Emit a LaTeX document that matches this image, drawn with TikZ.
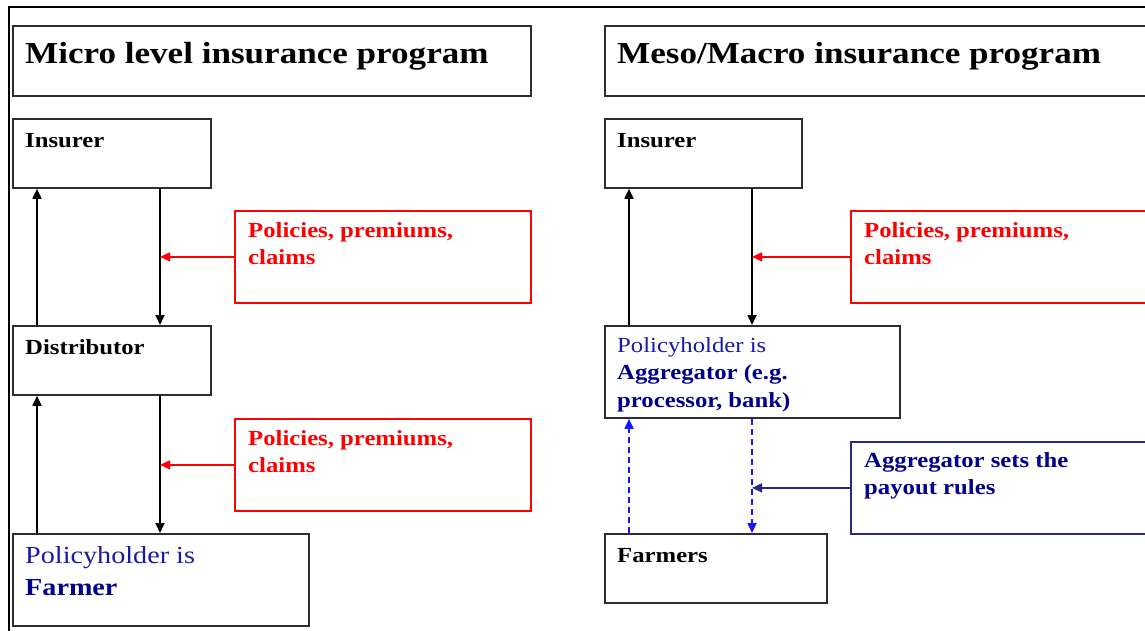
\documentclass[tikz,border=0pt]{standalone}
\usepackage{fontspec}
\setmainfont{Liberation Serif}[FakeStretch=1.15]
\usetikzlibrary{arrows.meta,calc}
\definecolor{boxgray}{RGB}{45,45,45}
\definecolor{navytxt}{RGB}{0,0,140}
\definecolor{bluetxt}{RGB}{25,25,165}
\definecolor{navybox}{RGB}{40,40,130}
\definecolor{dashblue}{RGB}{20,20,255}
\newcommand\stackl[2]{\vtop{\baselineskip=27pt\hbox{#1}\hbox{#2}}}
\newcommand\stackll[3]{\vtop{\baselineskip=27.5pt\hbox{#1}\hbox{#2}\hbox{#3}}}
\tikzset{
  box/.style={draw=boxgray, line width=1.8pt, rectangle, anchor=north west, inner sep=0pt},
  redbox/.style={draw=red, line width=1.8pt, rectangle, anchor=north west, inner sep=0pt},
  bluebox/.style={draw=navybox, line width=1.8pt, rectangle, anchor=north west, inner sep=0pt},
  lbl/.style={anchor=base west, inner sep=0pt, font=\fontsize{21.5}{27}\selectfont\bfseries},
  ttl/.style={anchor=base west, inner sep=0pt, font=\fontsize{30.5}{34}\selectfont\bfseries},
  tip/.style={-{Triangle[length=10pt,width=9pt]}},
  conn/.style={draw=black, line width=1.7pt, tip},
  redconn/.style={draw=red, line width=1.7pt, tip},
  navyconn/.style={draw=navybox, line width=1.7pt, tip},
  dashconn/.style={draw=dashblue, line width=1.7pt, dash pattern=on 6pt off 4pt, tip},
}
\begin{document}
\begin{tikzpicture}[x=1pt,y=-1pt]
\useasboundingbox (0,0) rectangle (1145,630);
\clip (0,0) rectangle (1145,630);
\fill[white] (0,0) rectangle (1145,630);
% frame
\draw[line width=2.5pt] (9,640) -- (9,7) -- (1160,7);
% titles
\node[box, minimum width=518, minimum height=70] (t1) at (12,25) {};
\node[ttl] at ($(t1.north west)+(13,38)$) {Micro level insurance program};
\node[box, minimum width=560, minimum height=70] (t2) at (604,25) {};
\node[ttl] at ($(t2.north west)+(13,38)$) {Meso/Macro insurance program};
% left column
\node[box, minimum width=198, minimum height=69] (ins1) at (12,118) {};
\node[lbl] at ($(ins1.north west)+(13,29)$) {Insurer};
\node[box, minimum width=198, minimum height=69] (dis1) at (12,325) {};
\node[lbl] at ($(dis1.north west)+(13,29)$) {Distributor};
\node[box, minimum width=296, minimum height=92] (far1) at (12,533) {};
\node[lbl, font=\fontsize{24.5}{30}\selectfont] at ($(far1.north west)+(13,30)$) {\vtop{\baselineskip=32pt\hbox{\color{bluetxt}Policyholder is}\hbox{\color{navytxt}\bfseries Farmer}}};
\node[redbox, minimum width=296, minimum height=92] (red1) at (234,210) {};
\node[lbl, text=red] at ($(red1.north west)+(14,27)$) {\stackl{Policies, premiums,}{claims}};
\node[redbox, minimum width=296, minimum height=92] (red2) at (234,418) {};
\node[lbl, text=red] at ($(red2.north west)+(14,27)$) {\stackl{Policies, premiums,}{claims}};
% left connectors
\coordinate (d1) at ($(ins1.south west)+(148,0)$);
\coordinate (d2) at ($(dis1.south west)+(148,0)$);
\draw[conn] ($(dis1.north west)+(25,0)$) -- ($(ins1.south west)+(25,0)$);
\draw[conn] (d1) -- (d1 |- dis1.north);
\draw[redconn] (red1.west) -- (red1.west -| d1);
\draw[conn] ($(far1.north west)+(25,0)$) -- ($(dis1.south west)+(25,0)$);
\draw[conn] (d2) -- (d2 |- far1.north);
\draw[redconn] (red2.west) -- (red2.west -| d2);
% right column
\node[box, minimum width=197, minimum height=69] (ins2) at (604,118) {};
\node[lbl] at ($(ins2.north west)+(13,29)$) {Insurer};
\node[box, minimum width=295, minimum height=92] (agg) at (604,325) {};
\node[lbl, text=navytxt] at ($(agg.north west)+(13,27)$) {\stackll{\color{bluetxt}\mdseries Policyholder is}{Aggregator (e.g.}{processor, bank)}};
\node[box, minimum width=222, minimum height=69] (far2) at (604,533) {};
\node[lbl] at ($(far2.north west)+(13,29)$) {Farmers};
\node[redbox, minimum width=310, minimum height=92] (red3) at (850,210) {};
\node[lbl, text=red] at ($(red3.north west)+(14,27)$) {\stackl{Policies, premiums,}{claims}};
\node[bluebox, minimum width=310, minimum height=92] (blu) at (850,441) {};
\node[lbl, text=navytxt] at ($(blu.north west)+(14,26)$) {\stackl{Aggregator sets the}{payout rules}};
% right connectors
\coordinate (d3) at ($(ins2.south west)+(148,0)$);
\coordinate (d4) at ($(agg.south west)+(148,0)$);
\draw[conn] ($(agg.north west)+(25,0)$) -- ($(ins2.south west)+(25,0)$);
\draw[conn] (d3) -- (d3 |- agg.north);
\draw[redconn] (red3.west) -- (red3.west -| d3);
\draw[dashconn] ($(far2.north west)+(25,0)$) -- ($(agg.south west)+(25,0)$);
\draw[dashconn] (d4) -- (d4 |- far2.north);
\draw[navyconn] (blu.west) -- (blu.west -| d4);
\end{tikzpicture}
\end{document}
